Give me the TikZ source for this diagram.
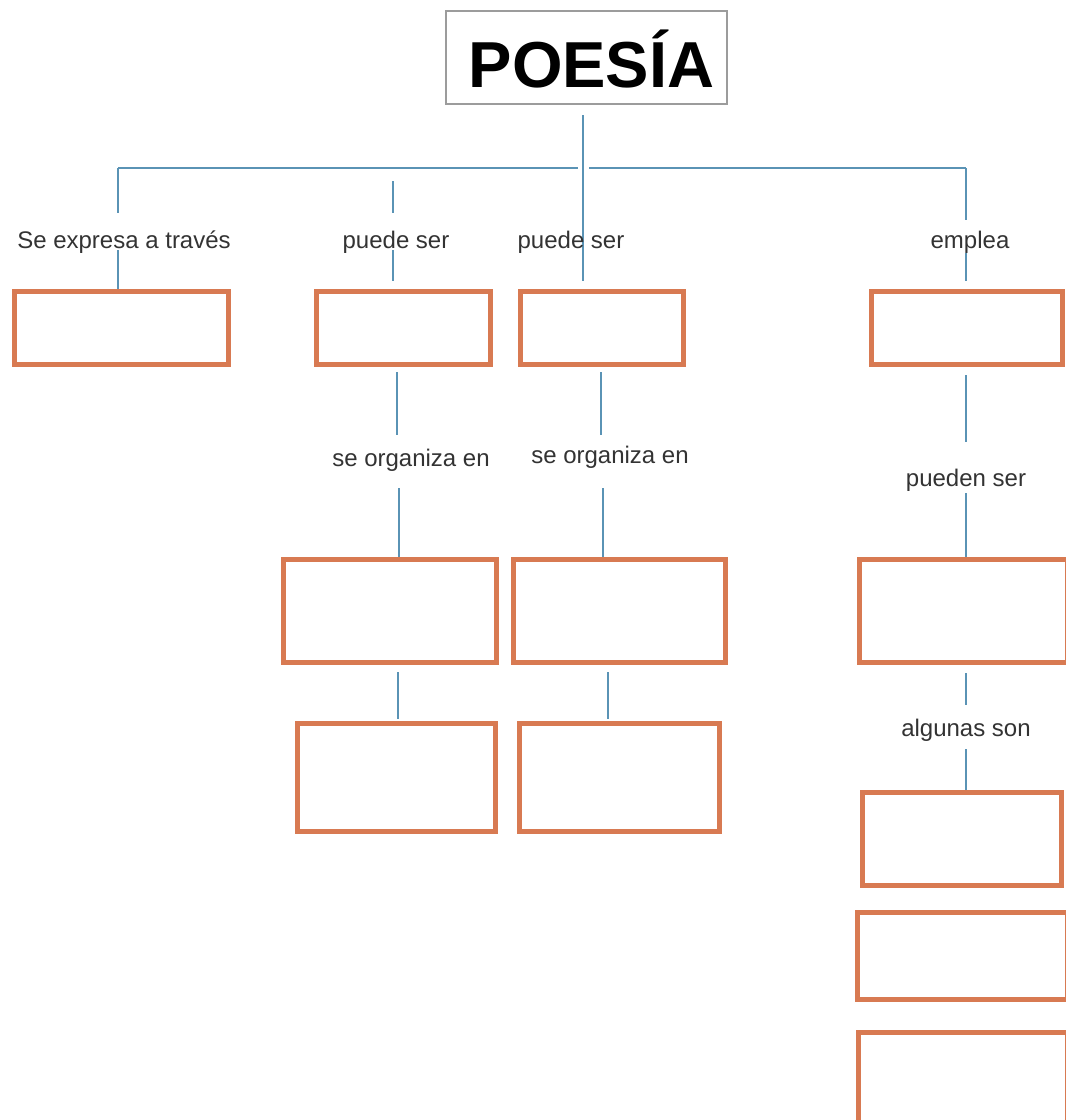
\documentclass[tikz,border=0pt]{standalone}
\usepackage{fontspec}
\setmainfont{Liberation Sans}
\definecolor{lnblue}{HTML}{5A93B5}
\definecolor{bxor}{HTML}{D87A52}
\definecolor{ttgray}{HTML}{9C9C9C}
\definecolor{txt}{HTML}{333333}
\begin{document}
\begin{tikzpicture}[x=1pt,y=-1pt,
  conn/.style={draw=lnblue, line width=2pt},
  obox/.style={draw=bxor, line width=5pt, rectangle, inner sep=0pt, fill=white},
  lab/.style={text=txt, font=\fontsize{24}{28}\selectfont, inner sep=0pt, anchor=base},
  titlebox/.style={draw=ttgray, line width=1.5pt, rectangle, inner sep=0pt, fill=white,
    minimum width=281pt, minimum height=93pt, text height=60pt, text depth=0pt,
    font=\fontsize{65}{70}\selectfont\bfseries}
]
\useasboundingbox (0,0) rectangle (1066,1120);
\clip (0,0) rectangle (1066,1120);
\fill[white] (0,0) rectangle (1066,1120);

% title
\node[titlebox] (T) at (586.5,57.5) {\hspace{10pt}POESÍA};

% boxes
\node[obox, minimum width=214pt, minimum height=73pt] (b1) at (121.5,328) {};
\node[obox, minimum width=174pt, minimum height=73pt] (b2) at (403.5,328) {};
\node[obox, minimum width=163pt, minimum height=73pt] (b3) at (602,328) {};
\node[obox, minimum width=191pt, minimum height=73pt] (b4) at (967,328) {};
\node[obox, minimum width=213pt, minimum height=103pt] (b5) at (390,611) {};
\node[obox, minimum width=212pt, minimum height=103pt] (b6) at (619.5,611) {};
\node[obox, minimum width=198pt, minimum height=108pt] (b7) at (396.5,777.5) {};
\node[obox, minimum width=200pt, minimum height=108pt] (b8) at (619.5,777.5) {};
\node[obox, minimum width=208pt, minimum height=103pt] (b9) at (963.5,611) {};
\node[obox, minimum width=199pt, minimum height=93pt] (b10) at (962,839) {};
\node[obox, minimum width=210pt, minimum height=87pt] (b11) at (962.5,956) {};
\node[obox, minimum width=209pt, minimum height=105pt] (b12) at (963,1085) {};

% coordinates
\coordinate (hL) at (118,168);
\coordinate (hgL) at (578,168);
\coordinate (hgR) at (589,168);
\coordinate (hR) at (966,168);
\coordinate (v3) at (583,115);
\coordinate (k1) at (118,213);
\coordinate (m1) at (118,250);
\coordinate (j2) at (393,181);
\coordinate (k2) at (393,213);
\coordinate (m2) at (393,250);
\coordinate (k4) at (966,220);
\coordinate (m4) at (966,253);
\coordinate (p2) at (397,435);
\coordinate (q2) at (399,488);
\coordinate (r2) at (398,719);
\coordinate (p3) at (601,435);
\coordinate (q3) at (603,488);
\coordinate (r3) at (608,719);
\coordinate (p4) at (966,442);
\coordinate (q4) at (966,493);
\coordinate (r4) at (966,705);
\coordinate (s4) at (966,749);

% connectors
\draw[conn] (hL) -- (hgL);
\draw[conn] (hgR) -- (hR);
\draw[conn] (hL) -- (k1);
\draw[conn] (m1) -- (m1 |- b1.north);
\draw[conn] (j2) -- (k2);
\draw[conn, shorten >=8pt] (m2) -- (m2 |- b2.north);
\draw[conn, shorten >=8pt] (v3) -- (v3 |- b3.north);
\draw[conn] (hR) -- (k4);
\draw[conn, shorten >=8pt] (m4) -- (m4 |- b4.north);

\draw[conn, shorten <=5pt] (p2 |- b2.south) -- (p2);
\draw[conn] (q2) -- (q2 |- b5.north);
\draw[conn, shorten <=7pt] (r2 |- b5.south) -- (r2);
\draw[conn, shorten <=5pt] (p3 |- b3.south) -- (p3);
\draw[conn] (q3) -- (q3 |- b6.north);
\draw[conn, shorten <=7pt] (r3 |- b6.south) -- (r3);
\draw[conn, shorten <=8pt] (p4 |- b4.south) -- (p4);
\draw[conn] (q4) -- (q4 |- b9.north);
\draw[conn, shorten <=8pt] (r4 |- b9.south) -- (r4);
\draw[conn] (s4) -- (s4 |- b10.north);

% labels
\node[lab] (l1) at (124,248) {Se expresa a través};
\node[lab] (l2) at (396,248) {puede ser};
\node[lab] (l3) at (571,248) {puede ser};
\node[lab] (l4) at (970,248) {emplea};
\node[lab] (l5) at (411,466) {se organiza en};
\node[lab] (l6) at (610,463) {se organiza en};
\node[lab] (l7) at (966,486) {pueden ser};
\node[lab] (l8) at (966,736) {algunas son};
\end{tikzpicture}
\end{document}
